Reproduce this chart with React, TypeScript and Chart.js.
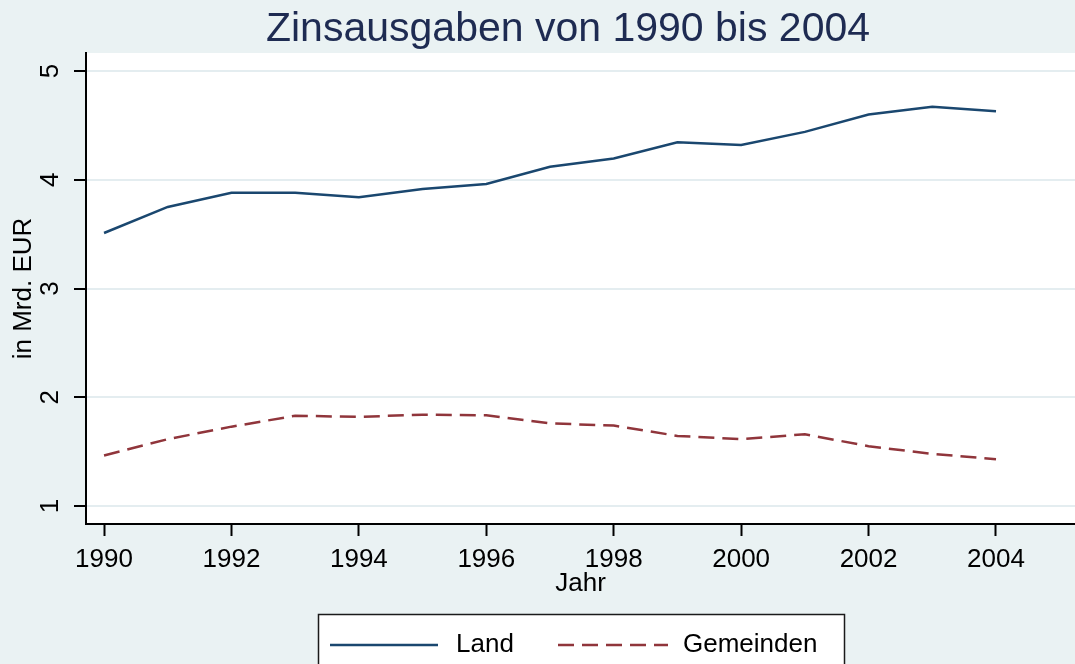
import React, { useEffect, useRef } from "react";
import { Chart, registerables } from "chart.js";

Chart.register(...registerables);

// ---- data ----
const years = [1990, 1991, 1992, 1993, 1994, 1995, 1996, 1997, 1998, 1999, 2000, 2001, 2002, 2003, 2004];
const land = [3.51, 3.75, 3.88, 3.88, 3.84, 3.915, 3.96, 4.12, 4.195, 4.345, 4.32, 4.44, 4.6, 4.67, 4.63];
const gemeinden = [1.465, 1.615, 1.73, 1.83, 1.82, 1.84, 1.835, 1.76, 1.74, 1.645, 1.615, 1.66, 1.55, 1.48, 1.43];
const xTicks = [1990, 1992, 1994, 1996, 1998, 2000, 2002, 2004];
const yTicks = [1, 2, 3, 4, 5];
const seriesLabels = ["Land", "Gemeinden"];
const titleText = "Zinsausgaben von 1990 bis 2004";
const xTitle = "Jahr";
const yTitle = "in Mrd. EUR";

const FONT = "'Liberation Sans', Arial, Helvetica, sans-serif";
const BG = "#EAF2F3";
const GRID = "#E4EDF0";
const NAVY = "#1A476F";
const MAROON = "#90353B";

export default function App() {
  const ref = useRef<HTMLCanvasElement>(null);

  useEffect(() => {
    const canvas = ref.current!;

    const backgroundPlugin = {
      id: "plotBg",
      beforeDraw(chart: any) {
        const { ctx, chartArea } = chart;
        ctx.save();
        ctx.fillStyle = "#FFFFFF";
        ctx.fillRect(chartArea.left, chartArea.top, chartArea.right - chartArea.left, chartArea.bottom - chartArea.top);
        ctx.restore();
      },
    };

    const overlayPlugin = {
      id: "overlay",
      afterDraw(chart: any) {
        const { ctx } = chart;
        const yScale = chart.scales.y;
        ctx.save();
        // rotated y tick labels
        ctx.fillStyle = "#000";
        ctx.font = `26px ${FONT}`;
        ctx.textAlign = "center";
        ctx.textBaseline = "middle";
        for (const t of yScale.ticks) {
          const py = yScale.getPixelForValue(t.value);
          ctx.save();
          ctx.translate(yScale.right - 35, py);
          ctx.rotate(-Math.PI / 2);
          ctx.fillText(String(t.value), 0, 0);
          ctx.restore();
        }
        // title
        ctx.fillStyle = "#1E2B52";
        ctx.font = `41px ${FONT}`;
        ctx.textAlign = "center";
        ctx.textBaseline = "alphabetic";
        ctx.fillText(titleText, 568, 41);

        // legend
        const bx = 318, by = 614, bw = 526, bh = 70;
        ctx.fillStyle = "#FFFFFF";
        ctx.fillRect(bx, by, bw, bh);
        ctx.strokeStyle = "#1A1A1A";
        ctx.lineWidth = 1.5;
        ctx.strokeRect(bx + 0.5, by + 0.5, bw, bh);
        const ly = 645;
        const items = [
          { x0: 330, x1: 438, tx: 456 },
          { x0: 558, x1: 668, tx: 683 },
        ];
        chart.data.datasets.forEach((ds: any, i: number) => {
          const it = items[i];
          ctx.beginPath();
          ctx.strokeStyle = ds.borderColor;
          ctx.lineWidth = ds.borderWidth;
          ctx.setLineDash(ds.borderDash || []);
          ctx.moveTo(it.x0, ly);
          ctx.lineTo(it.x1, ly);
          ctx.stroke();
          ctx.setLineDash([]);
          ctx.fillStyle = "#000";
          ctx.font = `26px ${FONT}`;
          ctx.textAlign = "left";
          ctx.textBaseline = "middle";
          ctx.fillText(ds.label, it.tx, ly);
        });
        ctx.restore();
      },
    };

    const chart = new Chart(canvas, {
      type: "line",
      data: {
        datasets: [
          {
            label: seriesLabels[0],
            data: years.map((x, i) => ({ x, y: land[i] })),
            borderColor: NAVY,
            borderWidth: 2.5,
            pointRadius: 0,
            tension: 0,
            fill: false,
          },
          {
            label: seriesLabels[1],
            data: years.map((x, i) => ({ x, y: gemeinden[i] })),
            borderColor: MAROON,
            borderWidth: 2.5,
            borderDash: [16, 8],
            pointRadius: 0,
            tension: 0,
            fill: false,
          },
        ],
      },
      options: {
        responsive: false,
        animation: false,
        events: [],
        layout: { padding: { top: 53, left: 0, right: 0, bottom: 0 } },
        plugins: {
          legend: { display: false },
          title: { display: false },
          tooltip: { enabled: false },
        },
        scales: {
          x: {
            type: "linear",
            min: 1989.717,
            max: 2005.24,
            afterBuildTicks: (s: any) => {
              s.ticks = xTicks.map((v) => ({ value: v }));
            },
            afterFit: (s: any) => {
              s.height = 140;
            },
            grid: {
              drawOnChartArea: false,
              drawTicks: true,
              tickLength: 12,
              tickColor: "#000",
              tickWidth: 2,
            },
            border: { display: true, color: "#000", width: 2 },
            ticks: {
              color: "#000",
              font: { family: FONT, size: 26 },
              padding: 8,
              maxRotation: 0,
              minRotation: 0,
              autoSkip: false,
              callback: (v: any) => String(v),
            },
            title: {
              display: true,
              text: xTitle,
              color: "#000",
              font: { family: FONT, size: 26 },
              padding: { top: 0, bottom: 65 },
            },
          },
          y: {
            type: "linear",
            min: 0.835,
            max: 5.165,
            afterBuildTicks: (s: any) => {
              s.ticks = yTicks.map((v) => ({ value: v }));
            },
            afterFit: (s: any) => {
              s.width = 86;
            },
            grid: {
              color: GRID,
              lineWidth: 2,
              drawTicks: true,
              tickLength: 12,
              tickColor: "#000",
              tickWidth: 2,
            },
            border: { display: true, color: "#000", width: 2 },
            ticks: { display: false },
            title: {
              display: true,
              text: yTitle,
              color: "#000",
              font: { family: FONT, size: 26 },
              padding: { top: 8, bottom: 0 },
            },
          },
        },
      } as any,
      plugins: [backgroundPlugin, overlayPlugin],
    });

    return () => chart.destroy();
  }, []);

  return (
    <div
      style={{
        position: "absolute",
        left: 0,
        top: 0,
        width: 1075,
        height: 664,
        background: BG,
        overflow: "hidden",
      }}
    >
      <canvas ref={ref} width={1075} height={664} style={{ display: "block", width: 1075, height: 664 }} />
    </div>
  );
}
